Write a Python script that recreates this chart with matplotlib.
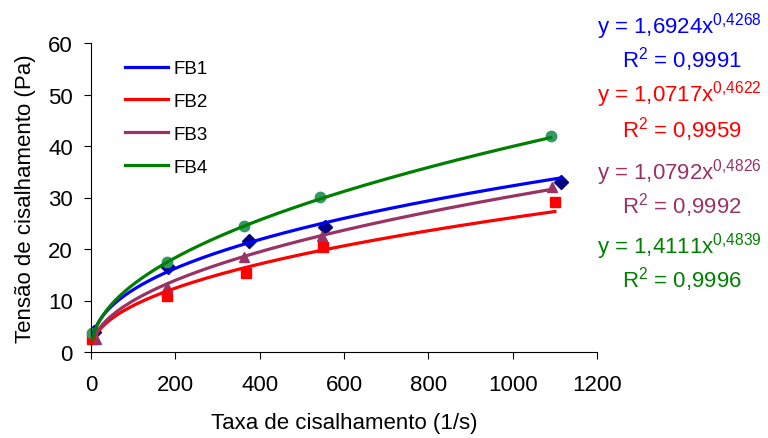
import numpy as np
import matplotlib
matplotlib.use("Agg")
import matplotlib.pyplot as plt

plt.rcParams['font.family'] = ['Liberation Sans', 'DejaVu Sans']
plt.rcParams['mathtext.fontset'] = 'custom'
plt.rcParams['mathtext.rm'] = 'Liberation Sans'
plt.rcParams['mathtext.it'] = 'Liberation Sans'

series = ["FB1", "FB2", "FB3", "FB4"]
x_fb1 = [6, 183, 374, 555, 1114]
y_fb1 = [3.8, 16.5, 21.6, 24.3, 33.0]
x_fb2 = [3, 181, 367, 550, 1100]
y_fb2 = [2.5, 10.9, 15.3, 20.4, 29.1]
x_fb3 = [12, 181, 364, 548, 1093]
y_fb3 = [2.6, 12.6, 18.4, 22.5, 32.0]
x_fb4 = [3, 181, 362, 543, 1090]
y_fb4 = [3.6, 17.5, 24.5, 30.1, 42.0]
coef_a = [1.6924, 1.0717, 1.0792, 1.4111]
coef_b = [0.4268, 0.4622, 0.4826, 0.4839]
r2 = ["0,9991", "0,9959", "0,9992", "0,9996"]
a_txt = ["1,6924", "1,0717", "1,0792", "1,4111"]
b_txt = ["0,4268", "0,4622", "0,4826", "0,4839"]

line_colors = ["#0000FF", "#FF0000", "#993366", "#008000"]
marker_colors = ["#000080", "#FF0000", "#993366", "#339966"]
markers = ["D", "s", "^", "o"]

xs = [x_fb1, x_fb2, x_fb3, x_fb4]
ys = [y_fb1, y_fb2, y_fb3, y_fb4]

fig = plt.figure(figsize=(7.68, 4.39), dpi=100)
ax = fig.add_axes([91 / 768, 1 - 353 / 439, 506 / 768, 309 / 439])

for i in range(4):
    ax.plot(xs[i], ys[i], linestyle='none', marker=markers[i],
            color=marker_colors[i], markersize=7.5, zorder=2, clip_on=False)
for i in range(4):
    xf = np.linspace(min(xs[i]), max(xs[i]), 300)
    ax.plot(xf, coef_a[i] * xf ** coef_b[i], color=line_colors[i], lw=2.3,
            label=series[i], zorder=3)

ax.set_xlim(0, 1200)
ax.set_ylim(0, 60)
ax.set_xticks(range(0, 1201, 200))
ax.set_yticks(range(0, 61, 10))
for s in ['top', 'right']:
    ax.spines[s].set_visible(False)
ax.tick_params(direction='out', length=5, labelsize=16)
ax.tick_params(axis='x', pad=11)
ax.tick_params(axis='y', pad=8)
ax.set_xlabel("Taxa de cisalhamento (1/s)", fontsize=16, labelpad=12)
ax.set_ylabel("Tensão de cisalhamento (Pa)", fontsize=16, labelpad=9)

leg = ax.legend(loc='upper left', bbox_to_anchor=(0.067, 0.945), frameon=False,
                fontsize=13.5, handlelength=2.3, labelspacing=0.84,
                handletextpad=0.3, borderaxespad=0, borderpad=0)

eq_base = [33, 102, 180, 253]
r_base = [68, 137, 213, 288]
for i in range(4):
    fig.text(597 / 768, 1 - eq_base[i] / 439,
             "y = %sx$^{\\mathrm{%s}}$" % (a_txt[i], b_txt[i].replace(",", "{,}")),
             color=line_colors[i], fontsize=16, va='baseline', ha='left')
    fig.text(622 / 768, 1 - r_base[i] / 439, "R$^2$ = %s" % r2[i],
             color=line_colors[i], fontsize=16, va='baseline', ha='left')

fig.savefig("out.png", dpi=100)
